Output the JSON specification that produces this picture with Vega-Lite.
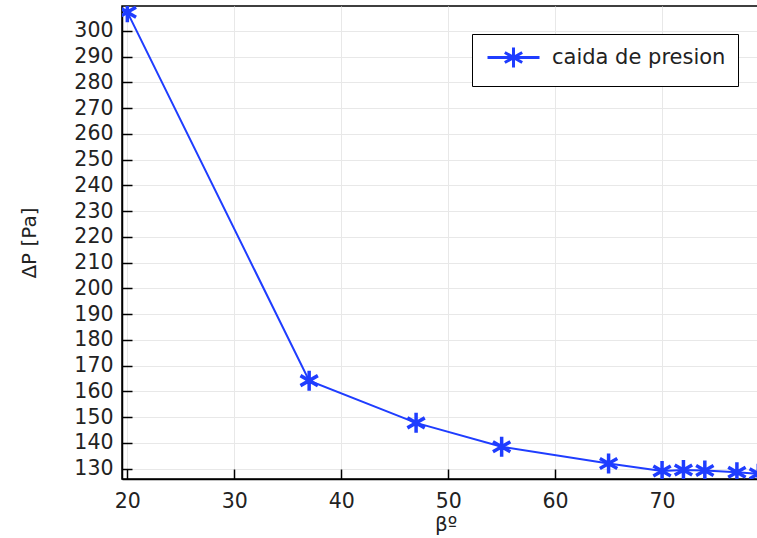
{
  "$schema": "https://vega.github.io/schema/vega-lite/v6.json",
  "autosize": {"type": "none"},
  "width": 647,
  "height": 473,
  "padding": {"left": 122, "top": 6, "right": 0, "bottom": 59},
  "background": "white",
  "config": {
    "font": "DejaVu Sans",
    "view": {"stroke": "black", "strokeWidth": 1.5},
    "axis": {
      "labelFont": "DejaVu Sans",
      "titleFont": "DejaVu Sans",
      "labelFontSize": 20.5,
      "titleFontSize": 20,
      "titleFontWeight": "normal",
      "labelColor": "#222222",
      "titleColor": "#222222",
      "domainColor": "black",
      "domainWidth": 1.5,
      "tickColor": "black",
      "tickWidth": 1.5,
      "tickSize": -10,
      "gridColor": "#e8e8e8",
      "gridWidth": 1
    }
  },
  "data": {
    "values": [
      {"beta": 20, "dp": 307.3, "serie": "caida de presion"},
      {"beta": 37, "dp": 164.2, "serie": "caida de presion"},
      {"beta": 47, "dp": 147.8, "serie": "caida de presion"},
      {"beta": 55, "dp": 138.5, "serie": "caida de presion"},
      {"beta": 65, "dp": 132.0, "serie": "caida de presion"},
      {"beta": 70, "dp": 129.1, "serie": "caida de presion"},
      {"beta": 72, "dp": 129.5, "serie": "caida de presion"},
      {"beta": 74, "dp": 129.3, "serie": "caida de presion"},
      {"beta": 77, "dp": 128.6, "serie": "caida de presion"},
      {"beta": 79, "dp": 128.0, "serie": "caida de presion"}
    ]
  },
  "encoding": {
    "x": {
      "field": "beta", "type": "quantitative",
      "scale": {"domain": [19.5, 80], "nice": false, "zero": false},
      "axis": {"values": [20, 30, 40, 50, 60, 70], "title": "βº", "labelPadding": 22, "titlePadding": 3}
    },
    "y": {
      "field": "dp", "type": "quantitative",
      "scale": {"domain": [126, 309.7], "nice": false, "zero": false},
      "axis": {"values": [130, 140, 150, 160, 170, 180, 190, 200, 210, 220, 230, 240, 250, 260, 270, 280, 290, 300], "title": "ΔP [Pa]", "labelPadding": 19, "titlePadding": 34}
    },
    "color": {
      "field": "serie", "type": "nominal",
      "scale": {"range": ["#1f3dff"]},
      "legend": {
        "title": null,
        "orient": "none",
        "legendX": 350,
        "legendY": 28,
        "fillColor": "white",
        "strokeColor": "black",
        "padding": 12,
        "symbolType": "M-2.6,0L2.6,0M0,-1L0,1M-0.87,-0.5L0.87,0.5M-0.87,0.5L0.87,-0.5",
        "symbolSize": 400,
        "symbolStrokeWidth": 3,
        "symbolOffset": 18,
        "symbolFillColor": "transparent",
        "labelFont": "DejaVu Sans",
        "labelFontSize": 21,
        "labelLimit": 400,
        "labelColor": "#222222",
        "labelOffset": 27
      }
    }
  },
  "layer": [
    {"mark": {"type": "line", "strokeWidth": 2, "clip": true}},
    {"mark": {"type": "point", "shape": "M0,-1L0,1M-0.87,-0.5L0.87,0.5M-0.87,0.5L0.87,-0.5", "filled": false, "size": 400, "strokeWidth": 3.5, "opacity": 1, "clip": true}}
  ]
}
